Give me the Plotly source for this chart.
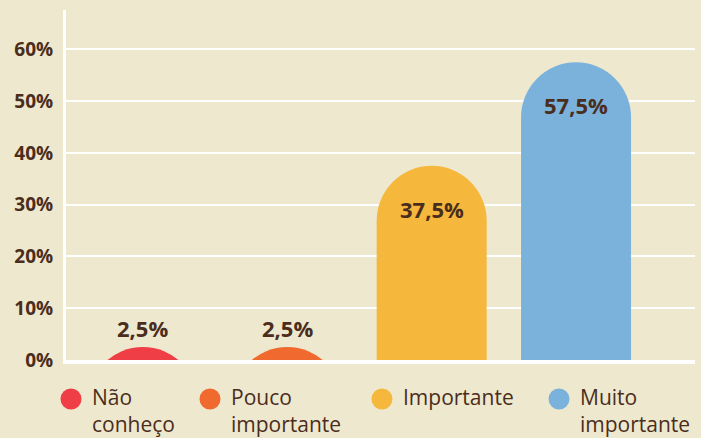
import plotly.graph_objects as go

categories = ["Não conheço", "Pouco importante", "Importante", "Muito importante"]
legend_names = ["Não<br>conheço", "Pouco<br>importante", "Importante", "Muito<br>importante"]
values = [2.5, 2.5, 37.5, 57.5]
value_labels = ["2,5%", "2,5%", "37,5%", "57,5%"]
colors = ["#EF3E45", "#F0692F", "#F5B73C", "#7BB2DC"]
tick_vals = [0, 10, 20, 30, 40, 50, 60]
tick_labels = ["0%", "10%", "20%", "30%", "40%", "50%", "60%"]

BG = "#EEE8CF"
TXT = "#4A2D1C"
FONT = "Open Sans"
HIDDEN_BASE = -20  # bars start below the visible axis so the round cap is a clean arc

# layout geometry (pixels)
W, H = 701, 438
ML, MR, MT, MB = 66, 6, 10, 78
PW, PH = W - ML - MR, H - MT - MB
legend_marker_px = [71, 210, 382, 559]   # legend symbol centres
legend_row_px = 399


def paper_x(px):
    return (px - ML) / PW


def paper_y(py):
    return (H - MB - py) / PH


fig = go.Figure()
fig.add_trace(go.Bar(
    x=categories,
    y=[v - HIDDEN_BASE for v in values],
    base=HIDDEN_BASE,
    marker=dict(color=colors, cornerradius="50%", line=dict(width=0)),
    width=0.762, showlegend=False, hoverinfo="skip", cliponaxis=True,
))

for cat, v, lab in zip(categories, values, value_labels):
    fig.add_annotation(
        x=cat, y=v, text=lab, showarrow=False,
        yanchor="middle", yshift=19 if v < 10 else -43,
        font=dict(family=FONT, size=22, color=TXT, weight="bold"),
    )

# legend: coloured dots + labels
for name, c, mx in zip(legend_names, colors, legend_marker_px):
    fig.add_shape(
        type="circle", xref="paper", yref="paper",
        xsizemode="pixel", ysizemode="pixel",
        xanchor=paper_x(mx), yanchor=paper_y(legend_row_px),
        x0=-10.5, x1=10.5, y0=-10.5, y1=10.5,
        fillcolor=c, line=dict(width=0),
    )
    fig.add_annotation(
        xref="paper", yref="paper",
        x=paper_x(mx + 19), y=paper_y(legend_row_px - 18),
        xanchor="left", yanchor="top", align="left",
        text=name, showarrow=False,
        font=dict(family=FONT, size=21, color=TXT),
    )

fig.update_layout(
    width=W, height=H,
    margin=dict(l=ML, r=MR, t=MT, b=MB),
    paper_bgcolor=BG, plot_bgcolor=BG,
    barmode="overlay", showlegend=False,
    xaxis=dict(
        type="category", range=[-0.533, 3.824],
        showticklabels=False, showgrid=False, zeroline=False,
        showline=True, linecolor="white", linewidth=4,
        fixedrange=True,
    ),
    yaxis=dict(
        range=[0, 67.6], tickvals=tick_vals, ticktext=tick_labels,
        showgrid=True, gridcolor="white", gridwidth=1.5,
        zeroline=False,
        showline=True, linecolor="white", linewidth=3,
        ticks="", ticklabelstandoff=6,
        tickfont=dict(family=FONT, size=19, color=TXT, weight="bold"),
        fixedrange=True,
    ),
)

fig.write_html(
    "out.html",
    config={"displayModeBar": False},
    post_script="document.body.style.margin='0';",
)
